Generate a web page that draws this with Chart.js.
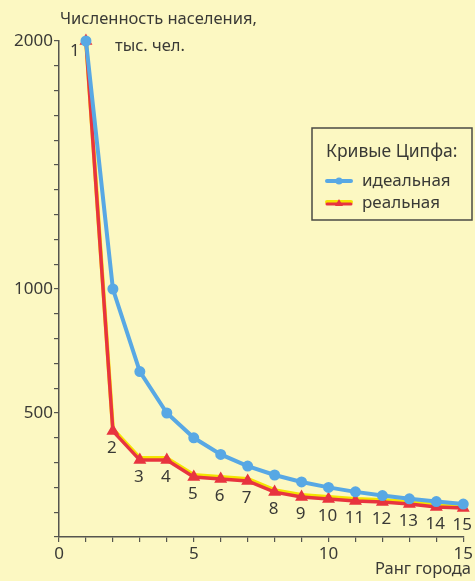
<!DOCTYPE html>
<html>
<head>
<meta charset="utf-8">
<script src="https://cdn.jsdelivr.net/npm/chart.js@4/dist/chart.umd.min.js"></script>
<style>
  html, body { margin: 0; padding: 0; background: #fcf8c2; }
  #wrap { position: relative; width: 475px; height: 581px; }
</style>
</head>
<body>
<div id="wrap"><canvas id="zipf" width="475" height="581"></canvas></div>
<script>
// ranks of cities and population, thousand people
const ranks = [1, 2, 3, 4, 5, 6, 7, 8, 9, 10, 11, 12, 13, 14, 15];
const idealPop = [2000, 1000, 667, 500, 400, 333, 286, 250, 222, 200, 182, 167, 154, 143, 133];
const realPop = [2000, 427, 310, 310, 242, 234, 226, 181, 161, 153, 145, 141, 133, 121, 117];
const yLabelled = [500, 1000, 2000];
const xLabelled = [0, 5, 10, 15];

const FONT = '"Noto Sans", "Open Sans", sans-serif';
const INK = '#3a3a36';

function toXY(vals) {
    return ranks.map((r, i) => ({ x: r, y: vals[i] }));
}

// yellow under-stroke of the real curve + rank numbers + titles + legend box
const decor = {
    id: 'decor',
    beforeDatasetsDraw(chart) {
        const meta = chart.getDatasetMeta(1);
        const ctx = chart.ctx;
        ctx.save();
        ctx.strokeStyle = '#f4e400';
        ctx.lineWidth = 4;
        ctx.lineJoin = 'round';
        ctx.beginPath();
        meta.data.forEach((p, i) => {
            if (i === 0) ctx.moveTo(p.x, p.y - 2); else ctx.lineTo(p.x, p.y - 2);
        });
        ctx.stroke();
        ctx.restore();
    },
    afterDraw(chart) {
        const ctx = chart.ctx;
        const meta = chart.getDatasetMeta(1);
        ctx.save();
        ctx.fillStyle = INK;
        ctx.font = '17px ' + FONT;
        ctx.textAlign = 'center';
        ctx.textBaseline = 'middle';
        meta.data.forEach((p, i) => {
            if (i === 0) ctx.fillText(String(ranks[i]), p.x - 11, p.y + 10);
            else ctx.fillText(String(ranks[i]), p.x - 1, p.y + 17);
        });

        // axis titles
        ctx.font = '16.5px ' + FONT;
        ctx.textAlign = 'left';
        ctx.fillText('Численность населения,', 60, 19);
        ctx.fillText('тыс. чел.', 115, 46);
        ctx.textAlign = 'right';
        ctx.fillText('Ранг города', 471, 569);

        // legend
        const lx = 312, ly = 128, lw = 160, lh = 92;
        ctx.strokeStyle = '#4a4a44';
        ctx.lineWidth = 1.5;
        ctx.strokeRect(lx, ly, lw, lh);
        ctx.font = '17.5px ' + FONT;
        ctx.textAlign = 'left';
        ctx.fillStyle = INK;
        ctx.fillText('Кривые Ципфа:', 326, 152);
        ctx.font = '17px ' + FONT;
        ctx.fillText('идеальная', 362, 181);
        ctx.fillText('реальная', 362, 203);

        // legend markers
        ctx.lineCap = 'round';
        ctx.strokeStyle = '#58a8e4';
        ctx.lineWidth = 4;
        ctx.beginPath(); ctx.moveTo(327, 181); ctx.lineTo(351, 181); ctx.stroke();
        ctx.fillStyle = '#58a8e4';
        ctx.beginPath(); ctx.arc(339, 181, 3.5, 0, Math.PI * 2); ctx.fill();

        ctx.strokeStyle = '#f4e400';
        ctx.beginPath(); ctx.moveTo(327, 202); ctx.lineTo(351, 202); ctx.stroke();
        ctx.strokeStyle = '#e8343f';
        ctx.lineWidth = 3;
        ctx.beginPath(); ctx.moveTo(327, 204); ctx.lineTo(351, 204); ctx.stroke();
        ctx.fillStyle = '#e8343f';
        ctx.beginPath(); ctx.moveTo(339, 199); ctx.lineTo(343, 206); ctx.lineTo(335, 206); ctx.closePath(); ctx.fill();
        ctx.restore();
    }
};

new Chart(document.getElementById('zipf').getContext('2d'), {
    type: 'line',
    data: {
        datasets: [{
            label: 'идеальная',
            data: toXY(idealPop),
            borderColor: '#58a8e4',
            backgroundColor: '#58a8e4',
            borderWidth: 4,
            pointRadius: 3.5,
            pointStyle: 'circle',
            tension: 0,
            clip: false
        }, {
            label: 'реальная',
            data: toXY(realPop),
            borderColor: '#e8343f',
            backgroundColor: '#e8343f',
            borderWidth: 3.5,
            pointRadius: 4,
            pointStyle: 'triangle',
            tension: 0,
            clip: false
        }]
    },
    options: {
        responsive: false,
        animation: false,
        layout: { padding: { top: 41, right: 9, bottom: 0, left: 0 } },
        plugins: {
            legend: { display: false },
            tooltip: { enabled: false }
        },
        scales: {
            x: {
                type: 'linear',
                min: 0,
                max: 15,
                afterFit: s => { s.height = 44; },
                border: { color: '#55554e', width: 1.5 },
                grid: { drawOnChartArea: false, drawTicks: true, tickLength: 5, color: '#55554e', lineWidth: 1.2 },
                ticks: {
                    stepSize: 1,
                    autoSkip: false,
                    maxRotation: 0,
                    padding: 2,
                    color: INK,
                    font: { family: FONT, size: 17 },
                    callback: v => xLabelled.includes(v) ? String(v) : ''
                }
            },
            y: {
                min: 0,
                max: 2000,
                afterFit: s => { s.width = 59; },
                border: { color: '#55554e', width: 1.5 },
                grid: { drawOnChartArea: false, drawTicks: true, tickLength: 5, color: '#55554e', lineWidth: 1.2 },
                ticks: {
                    stepSize: 100,
                    autoSkip: false,
                    padding: 1,
                    color: INK,
                    font: { family: FONT, size: 17 },
                    callback: v => yLabelled.includes(v) ? String(v) : ''
                }
            }
        }
    },
    plugins: [decor]
});
</script>
</body>
</html>
